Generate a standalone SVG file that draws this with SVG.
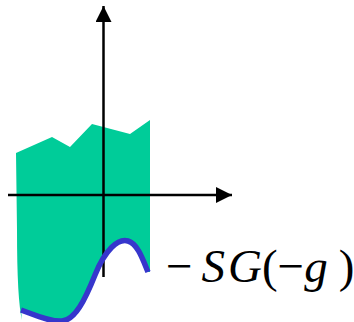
<svg xmlns="http://www.w3.org/2000/svg" width="354" height="322" viewBox="0 0 354 322">
<style>
.ax{stroke:#000;stroke-width:2.5;fill:none}
.t{font-family:"Liberation Serif","Times New Roman",serif;font-size:47px;fill:#000}
.i{font-style:italic}
</style>
<defs>
<marker id="ah" viewBox="0 0 16 16" refX="16" refY="8" markerWidth="16" markerHeight="16" markerUnits="userSpaceOnUse" orient="auto">
<path d="M0,0 L16,8 L0,16 Z" fill="#000"/>
</marker>
</defs>
<g id="region">
<path d="M16,153 L52,137 L70,147 L92,124 L130,134 L150,120 L150,272 L148,272 C143,260 138,244 128,241 C118,238 105,250 95,275 C85,300 75,320 62,321 C50,322 35,315 21,310 L22,320 Q17,300 17,230 Z" fill="#00CC99"/>
</g>
<g id="connectors">
<line class="ax" x1="103.5" y1="277" x2="103.5" y2="6" marker-end="url(#ah)"/>
<line class="ax" x1="8" y1="195" x2="232" y2="195" marker-end="url(#ah)"/>
</g>
<g id="curve">
<path d="M21,310 C35,315 50,322 62,321 C75,320 85,300 95,275 C105,250 118,238 128,241 C138,244 143,260 148,272" fill="none" stroke="#3636CC" stroke-width="5.5"/>
</g>
<g id="label">
<text class="t" x="166" y="282">−<tspan class="i" dx="9">S</tspan><tspan class="i" dx="3">G</tspan>(−<tspan class="i">g</tspan><tspan dx="11">)</tspan></text>
</g>
</svg>
